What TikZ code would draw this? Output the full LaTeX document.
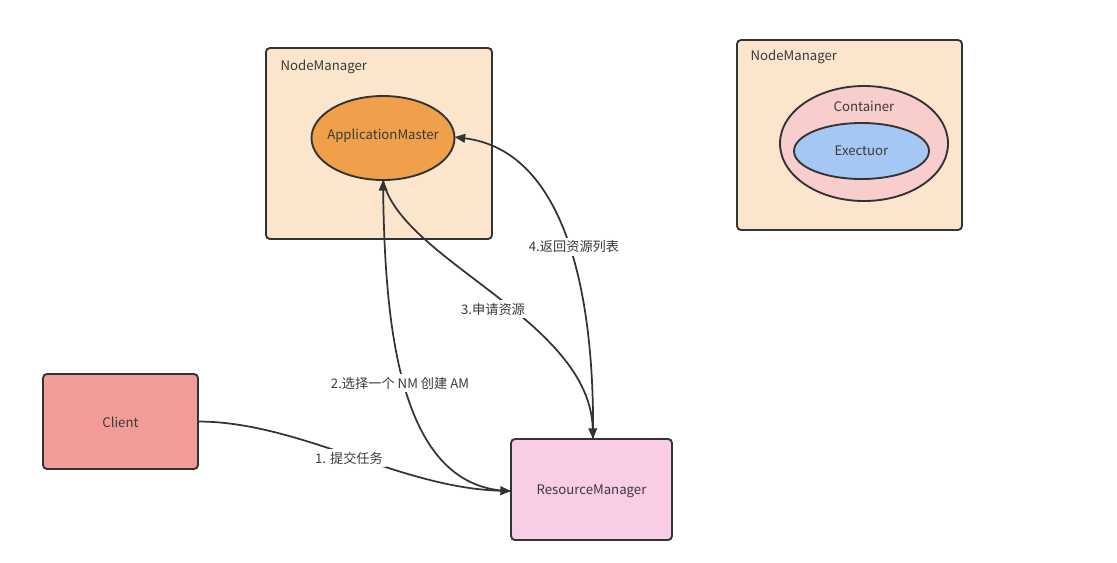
\documentclass[tikz,border=0pt]{standalone}
\usepackage{fontspec}
\setmainfont{Noto Sans CJK SC}
\usetikzlibrary{shapes.geometric,arrows.meta}
\definecolor{peach}{HTML}{FBE5CD}
\definecolor{amorange}{HTML}{F0A04A}
\definecolor{contpink}{HTML}{F8CECC}
\definecolor{execblue}{HTML}{A4C8F3}
\definecolor{clientred}{HTML}{F19C99}
\definecolor{rmpink}{HTML}{F9CDE5}
\definecolor{edge}{HTML}{333333}
\definecolor{txt}{HTML}{3A3A3A}
\tikzset{
  box/.style={draw=edge, line width=1.4pt, rounded corners=3pt, inner sep=0pt},
  oval/.style={draw=edge, line width=1.4pt, ellipse, inner sep=0pt},
  txtnode/.style={text=txt, font=\fontsize{9.9}{12}\selectfont, inner sep=1pt},
  lbl/.style={txtnode, fill=white, inner sep=2pt},
  conn/.style={draw=edge, line width=1.3pt, -{Triangle[length=8pt,width=6.5pt]}},
}
\begin{document}
\begin{tikzpicture}[x=0.75pt,y=-0.75pt]
\useasboundingbox (0,0) rectangle (1117,562);
% Node managers
\node[box, fill=peach, minimum width=169.5pt, minimum height=143.25pt] (nm1) at (379,143.5) {};
\node[txtnode, anchor=west] (nm1t) at (279,67) {NodeManager};
\node[box, fill=peach, minimum width=168.75pt, minimum height=142.5pt] (nm2) at (849.5,135) {};
\node[txtnode, anchor=west] (nm2t) at (749,57) {NodeManager};
% AM
\node[oval, fill=amorange, minimum width=107.25pt, minimum height=63pt] (am) at (383,138) {};
\node[txtnode] (amt) at (383,136) {ApplicationMaster};
% container
\node[oval, fill=contpink, minimum width=126pt, minimum height=86.25pt] (cont) at (864,143.5) {};
\node[txtnode] (contt) at (864,106) {Container};
\node[oval, fill=execblue, minimum width=101.25pt, minimum height=42pt] (exec) at (861.5,151) {};
\node[txtnode] (exect) at (861.5,151) {Exectuor};
% client and RM
\node[box, fill=clientred, minimum width=116.25pt, minimum height=71.25pt] (client) at (120.5,421.5) {};
\node[txtnode] (clientt) at (120.5,422) {Client};
\node[box, fill=rmpink, minimum width=120.75pt, minimum height=75.75pt] (rm) at (591.5,489.5) {};
\node[txtnode] (rmt) at (591.5,491) {ResourceManager};
% connectors
\coordinate (rmw) at (511,491);
\coordinate (rmn) at (593,439);
\coordinate (ams) at (383,180);
\coordinate (ame) at (454.5,137);
\draw[conn] (client.east) .. controls (300,422) and (400,488) .. (rmw);
\draw[conn] (rmw) .. controls (400,490) and (385,330) .. (ams);
\draw[conn] (ams) .. controls (400,260) and (590,320) .. (rmn);
\draw[conn] (rmn) .. controls (595,280) and (560,150) .. (ame);
% labels
\node[lbl] (l1) at (349,458) {1. 提交任务};
\node[lbl] (l2) at (400,383) {2.选择一个 NM 创建 AM};
\node[lbl] (l3) at (493,309) {3.申请资源};
\node[lbl] (l4) at (574,247) {4.返回资源列表};
\end{tikzpicture}
\end{document}
